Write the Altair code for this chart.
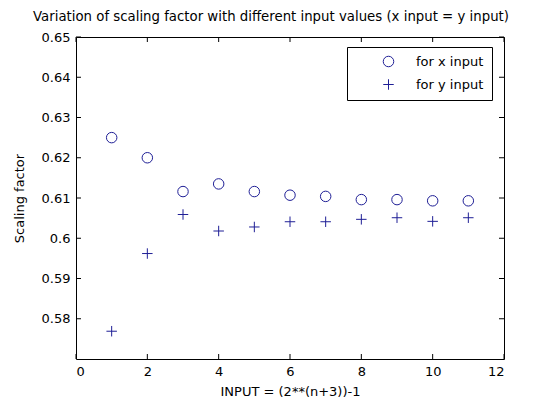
import altair as alt
import pandas as pd

inputs = [1, 2, 3, 4, 5, 6, 7, 8, 9, 10, 11]
x_factor = [0.6250, 0.6200, 0.6116, 0.6135, 0.6116, 0.6107, 0.6104, 0.6096, 0.6096, 0.6093, 0.6093]
y_factor = [0.5769, 0.5962, 0.6059, 0.6018, 0.6028, 0.6041, 0.6041, 0.6047, 0.6051, 0.6042, 0.6051]
series = ["for x input", "for y input"]
x_ticks = [0, 2, 4, 6, 8, 10, 12]
y_ticks = [0.58, 0.59, 0.60, 0.61, 0.62, 0.63, 0.64, 0.65]

W, H = 428, 322
BLUE = "#1f1f96"
FONT = "DejaVu Sans"

df = pd.DataFrame({
    "n": inputs * 2,
    "factor": x_factor + y_factor,
    "series": [series[0]] * len(inputs) + [series[1]] * len(inputs),
})
xt = pd.DataFrame({"t": x_ticks})
yt = pd.DataFrame({"t": y_ticks})

xscale = alt.Scale(domain=[0, 12], nice=False, zero=False)
yscale = alt.Scale(domain=[0.57, 0.65], nice=False, zero=False)

points = alt.Chart(df).mark_point(filled=False, strokeWidth=1, opacity=1).encode(
    x=alt.X("n:Q", scale=xscale,
            axis=alt.Axis(values=x_ticks, title="INPUT = (2**(n+3))-1", format="d",
                          ticks=False, domain=False, grid=False, labelPadding=6,
                          titlePadding=7)),
    y=alt.Y("factor:Q", scale=yscale,
            axis=alt.Axis(values=y_ticks, title="Scaling factor", format="~g",
                          ticks=False, domain=False, grid=False, labelPadding=6,
                          titlePadding=15)),
    color=alt.value(BLUE),
    shape=alt.Shape("series:N",
                    scale=alt.Scale(domain=series, range=["circle", "M-1,0L1,0M0,-1L0,1"]),
                    legend=alt.Legend(title=None, orient="none", legendX=271, legendY=10,
                                      fillColor="white", strokeColor="black", padding=8,
                                      symbolOffset=27, symbolSize=110, symbolStrokeColor=BLUE,
                                      symbolStrokeWidth=1, symbolFillColor="transparent",
                                      labelOffset=21, labelFontSize=13, labelColor="black",
                                      labelFont=FONT, rowPadding=8,
                                      labelLimit=200)),
    size=alt.value(110),
)

bt = alt.Chart(xt).mark_rule(color="black", strokeWidth=1).encode(
    x=alt.X("t:Q", scale=xscale), y=alt.value(H), y2=alt.value(H - 5))
tt = alt.Chart(xt).mark_rule(color="black", strokeWidth=1).encode(
    x=alt.X("t:Q", scale=xscale), y=alt.value(0), y2=alt.value(5))
lt = alt.Chart(yt).mark_rule(color="black", strokeWidth=1).encode(
    y=alt.Y("t:Q", scale=yscale), x=alt.value(0), x2=alt.value(5))
rt = alt.Chart(yt).mark_rule(color="black", strokeWidth=1).encode(
    y=alt.Y("t:Q", scale=yscale), x=alt.value(W), x2=alt.value(W - 5))

chart = alt.layer(bt, tt, lt, rt, points).properties(
    width=W, height=H,
    background="white",
    title=alt.Title("Variation of scaling factor with different input values (x input = y input)",
                    fontSize=13.3, font=FONT, fontWeight="normal", color="black",
                    anchor="middle", offset=8, dx=-19),
    autosize=alt.AutoSizeParams(type="none"),
    padding={"left": 68, "top": 29, "right": 38, "bottom": 40},
).configure_view(stroke="black", strokeWidth=1).configure_axis(
    labelFont=FONT, labelFontSize=13, labelColor="black",
    titleFont=FONT, titleFontSize=13, titleFontWeight="normal", titleColor="black",
)

chart.save("out.html", embed_options={"renderer": "svg", "actions": False})
